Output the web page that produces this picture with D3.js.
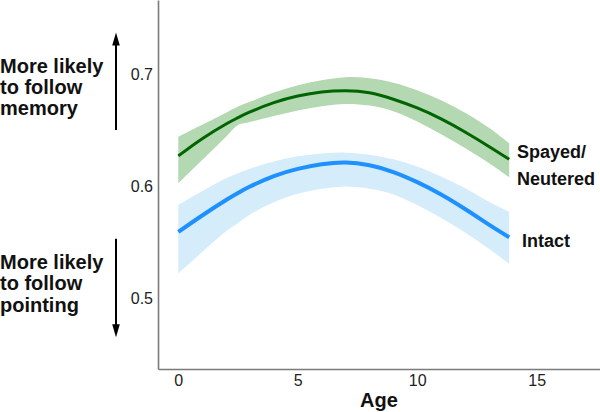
<!DOCTYPE html>
<html>
<head>
<meta charset="utf-8">
<script src="https://cdn.jsdelivr.net/npm/d3@7"></script>
<style>
    body { margin: 0; background: #fff; }
    svg { display: block; font-family: "Liberation Sans", Arial, sans-serif; }
    .tick text { fill: #222; font-size: 16px; }
    .lbl { font-weight: bold; font-size: 20px; fill: #111; }
    .grp { font-weight: bold; font-size: 18px; fill: #111; }
</style>
</head>
<body>
<figure id="chart" style="margin:0"></figure>
<script>
// ages sampled along the fitted curves
var ages = [0, 1, 2, 2.5, 3, 4, 5, 6, 7, 8, 9, 10, 11, 12, 13, 13.85];

// spayed / neutered
var neuteredFit   = [0.6269, 0.6423, 0.6554, 0.6610, 0.6661, 0.6744, 0.6803, 0.6839, 0.6851, 0.6833, 0.6775, 0.6697, 0.6599, 0.6482, 0.6353, 0.6238];
var neuteredUpper = [0.644, 0.6547, 0.6655, 0.671, 0.6752, 0.6835, 0.690, 0.6945, 0.6972, 0.6962, 0.6922, 0.6855, 0.6765, 0.6655, 0.652, 0.6381];
var neuteredLower = [0.6024, 0.6232, 0.6441, 0.6545, 0.6572, 0.6625, 0.6675, 0.6713, 0.6733, 0.6718, 0.6668, 0.6575, 0.6462, 0.6340, 0.6205, 0.6078];

// intact
var intactFit   = [0.559, 0.5737, 0.5875, 0.5938, 0.5995, 0.6088, 0.6153, 0.6194, 0.621, 0.6185, 0.6125, 0.6035, 0.5925, 0.5795, 0.5655, 0.5542];
var intactUpper = [0.583, 0.5955, 0.607, 0.6115, 0.6155, 0.622, 0.6265, 0.629, 0.6298, 0.628, 0.624, 0.6175, 0.6085, 0.598, 0.586, 0.577];
var intactLower = [0.522, 0.541, 0.5595, 0.567, 0.5745, 0.5855, 0.593, 0.5975, 0.5995, 0.5975, 0.5925, 0.583, 0.5715, 0.5585, 0.544, 0.5304];

var xTicks = [0, 5, 10, 15];
var yTicks = [0.5, 0.6, 0.7];

var dimensions = {
    width: 600,
    height: 412,
    margin: { top: 0, right: 0, bottom: 43, left: 158 }
};

var svg = d3.select("figure#chart")
    .append("svg")
    .attr("width", dimensions.width)
    .attr("height", dimensions.height);

var xScale = d3.scaleLinear()
    .domain([-0.85, 17.65])
    .range([dimensions.margin.left, dimensions.width - dimensions.margin.right]);

var yScale = d3.scaleLinear()
    .domain([0.4366, 0.7661])
    .range([dimensions.height - dimensions.margin.bottom, dimensions.margin.top]);

function series(fit, upper, lower) {
    return ages.map((a, i) => ({ age: a, fit: fit[i], hi: upper[i], lo: lower[i] }));
}

var groups = [
    { name: "neutered", data: series(neuteredFit, neuteredUpper, neuteredLower), band: "#b4d8b1", line: "#006400", width: 3 },
    { name: "intact", data: series(intactFit, intactUpper, intactLower), band: "#d5ecfb", line: "#1e90ff", width: 4 }
];

var area = d3.area()
    .x(d => xScale(d.age))
    .y0(d => yScale(d.lo))
    .y1(d => yScale(d.hi))
    .curve(d3.curveCatmullRom);

var line = d3.line()
    .x(d => xScale(d.age))
    .y(d => yScale(d.fit))
    .curve(d3.curveNatural);

svg.selectAll("path.band")
    .data(groups)
    .enter()
    .append("path")
    .attr("class", "band")
    .attr("d", d => area(d.data))
    .attr("fill", d => d.band);

svg.selectAll("path.fit")
    .data(groups)
    .enter()
    .append("path")
    .attr("class", "fit")
    .attr("d", d => line(d.data))
    .attr("fill", "none")
    .attr("stroke", d => d.line)
    .attr("stroke-width", d => d.width);

// axes
var xAxis = svg.append("g")
    .attr("transform", `translate(0, ${yScale.range()[0]})`)
    .call(d3.axisBottom(xScale).tickValues(xTicks).tickSize(0).tickPadding(6));

var yAxis = svg.append("g")
    .attr("transform", `translate(${xScale.range()[0]}, 0)`)
    .call(d3.axisLeft(yScale).tickValues(yTicks).tickFormat(d3.format(".1f")).tickSize(0).tickPadding(5));

svg.selectAll(".domain")
    .attr("stroke", "#7a7a7a")
    .attr("stroke-width", 1.6);

svg.selectAll(".tick text").attr("font-family", null).attr("font-size", null);

svg.append("text")
    .attr("class", "lbl")
    .attr("x", 379)
    .attr("y", 407)
    .attr("text-anchor", "middle")
    .text("Age");

// group labels
svg.append("text").attr("class", "grp").attr("x", 517).attr("y", 158).text("Spayed/");
svg.append("text").attr("class", "grp").attr("x", 517).attr("y", 185).text("Neutered");
svg.append("text").attr("class", "grp").attr("x", 522).attr("y", 247).text("Intact");

// side annotations
var notes = [
    { lines: ["More likely", "to follow", "memory"], y: 72.5 },
    { lines: ["More likely", "to follow", "pointing"], y: 269 }
];
notes.forEach(n => {
    var t = svg.append("text").attr("class", "lbl").attr("x", 0).attr("y", n.y);
    n.lines.forEach((s, i) => {
        t.append("tspan").attr("x", 0).attr("dy", i ? 21.3 : 0).text(s);
    });
});

// arrows, in data units
var arrows = [
    { from: 0.65, to: 0.737 },
    { from: 0.553, to: 0.465 }
];
var ax = 116;
arrows.forEach(a => {
    var y0 = yScale(a.from), y1 = yScale(a.to);
    var dir = y1 < y0 ? 1 : -1;
    svg.append("line")
        .attr("x1", ax).attr("x2", ax)
        .attr("y1", y0).attr("y2", y1 + dir * 10)
        .attr("stroke", "#000")
        .attr("stroke-width", 2);
    svg.append("path")
        .attr("d", `M${ax},${y1} L${ax - 3.8},${y1 + dir * 13} L${ax + 3.8},${y1 + dir * 13} Z`)
        .attr("fill", "#000");
});
</script>
</body>
</html>
